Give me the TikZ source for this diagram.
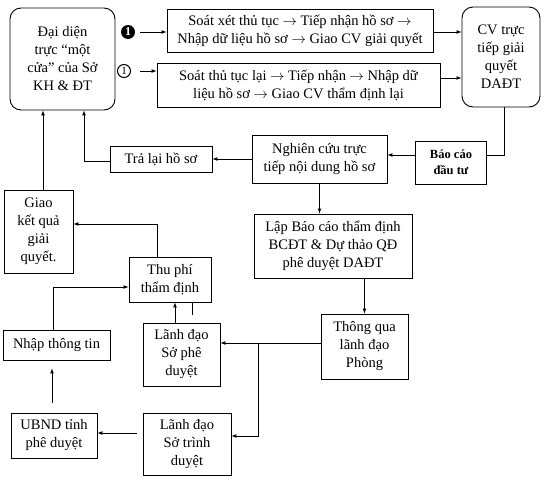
\documentclass[tikz,border=0pt]{standalone}
\usepackage{fontspec}
\setmainfont{Liberation Serif}
\usepackage{tikz}
\usetikzlibrary{shapes,arrows}
\tikzstyle{arrow} = [draw, -latex, line width=0.7pt]
\tikzstyle{line} = [draw, line width=0.7pt]
\tikzstyle{box} = [draw, line width=0.9pt, align=center, inner sep=1pt]
\tikzstyle{rbox} = [box, rounded corners=11pt]

\begin{document}
\begin{tikzpicture}[x=1pt, y=-1pt, font=\fontsize{14.5}{18}\selectfont]
\useasboundingbox (0,0) rectangle (550,480);

\node [rbox, minimum width=105pt, minimum height=102pt] at (62.5, 59) (daidien) {Đại diện\\trực “một\\cửa” của Sở\\KH \& ĐT};

\node [circle, fill=black, text=white, inner sep=0pt, minimum size=14pt, font=\bfseries\fontsize{12}{12}\selectfont] at (128, 32) (one1) {1};
\node [circle, draw, line width=1pt, inner sep=0pt, minimum size=13pt, font=\fontsize{11}{11}\selectfont] at (124, 71) (one2) {1};

\node [box, minimum width=266pt, minimum height=43pt] at (300, 30.5) (soatxet) {Soát xét thủ tục $\rightarrow$ Tiếp nhận hồ sơ $\rightarrow$\\Nhập dữ liệu hồ sơ $\rightarrow$ Giao CV giải quyết};

\node [box, minimum width=283pt, minimum height=44pt] at (298.5, 85) (soatlai) {Soát thủ tục lại $\rightarrow$ Tiếp nhận $\rightarrow$ Nhập dữ\\liệu hồ sơ $\rightarrow$ Giao CV thẩm định lại};

\node [rbox, minimum width=78pt, minimum height=100pt] at (501, 57) (cv) {CV trực\\tiếp giải\\quyết\\DAĐT};

\path [arrow] ([xshift=5]one1.east) to (one1.east -| soatxet.west);
\path [arrow] ([xshift=9]one2.east) to (one2.east -| soatlai.west);
\path [arrow] ([yshift=-1.5]soatxet.east) to ([yshift=-1.5]soatxet.east -| cv.west);
\path [arrow] ([yshift=7]soatlai.east) to ([yshift=7]soatlai.east -| cv.west);

\node [box, minimum width=71pt, minimum height=43pt, font=\bfseries\fontsize{12.5}{16}\selectfont] at (451, 162.5) (baocao) {Báo cáo\\đầu tư};

\node [box, minimum width=135pt, minimum height=48pt] at (319.5, 159) (nghiencuu) {Nghiên cứu trực\\tiếp nội dung hồ sơ};

\node [box, minimum width=102pt, minimum height=26pt] at (161, 159) (tralai) {Trả lại hồ sơ};

\path [line] ([xshift=3]cv.south) |- ([yshift=7.5]baocao.east);
\path [arrow] ([yshift=7.5]baocao.west) to ([yshift=7.5]baocao.west -| nghiencuu.east);
\path [arrow] (nghiencuu.west) to (tralai.east);
\path [arrow] ([yshift=-2]tralai.west) -| ([xshift=21.5]daidien.south);

\node [box, minimum width=158pt, minimum height=64pt] at (333, 246) (lap) {Lập Báo cáo thẩm định\\BCĐT \& Dự thảo QĐ\\phê duyệt DAĐT};

\path [arrow] (nghiencuu.south) to (nghiencuu.south |- lap.north);

\node [box, minimum width=69pt, minimum height=83pt] at (38.5, 231.5) (giao) {Giao\\kết quả\\giải\\quyết.};

\path [arrow] ([xshift=4.5]giao.north) to ([xshift=4.5]giao.north |- daidien.south);

\node [box, minimum width=82pt, minimum height=45pt] at (170, 279.5) (thuphi) {Thu phí\\thẩm định};

\path [arrow] ([xshift=-13]thuphi.north) |- ([yshift=7.5]giao.east);

\node [box, minimum width=87pt, minimum height=65pt] at (364.5, 346.5) (thongqua) {Thông qua\\lãnh đạo\\Phòng};

\path [arrow] (thongqua.north |- lap.south) to (thongqua.north);

\node [box, minimum width=77pt, minimum height=63pt] at (181.5, 354.5) (lanhdaopd) {Lãnh đạo\\Sở phê\\duyệt};

\node [box, minimum width=107pt, minimum height=30pt] at (56.5, 345) (nhap) {Nhập thông tin};

\path [arrow] ([xshift=-3]nhap.north) |- ([yshift=-7.5]thuphi.west);
\path [arrow] ([xshift=-6.5]lanhdaopd.north) to ([xshift=-6.5]lanhdaopd.north |- thuphi.south);
\path [line] ([xshift=22]thuphi.south) to ++(0, 13);

\path [arrow] ([yshift=3.5]thongqua.west) to ([yshift=3.5]thongqua.west -| lanhdaopd.east);
\coordinate (split) at (258, 343);

\node [box, minimum width=88pt, minimum height=62pt] at (187, 444) (lanhdaotd) {Lãnh đạo\\Sở trình\\duyệt};

\node [box, minimum width=86pt, minimum height=45pt] at (54, 435.5) (ubnd) {UBND tỉnh\\phê duyệt};

\path [arrow] (split) |- ([yshift=8]lanhdaotd.east);
\path [arrow] ([xshift=-6, yshift=2.5]lanhdaotd.west |- ubnd.east) to ([yshift=2.5]ubnd.east);
\path [arrow] ([xshift=-2, yshift=10]ubnd.north) to ([xshift=-2, yshift=-8]ubnd.north |- nhap.south);
\end{tikzpicture}
\end{document}
